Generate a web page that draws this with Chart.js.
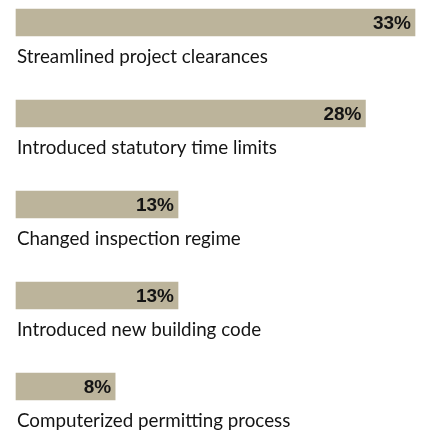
<!DOCTYPE html>
<html>
<head>
<meta charset="utf-8">
<script src="https://cdn.jsdelivr.net/npm/chart.js@4/dist/chart.umd.min.js"></script>
<style>
  html, body { margin: 0; padding: 0; background: #ffffff; }
  #wrap { width: 424px; height: 431px; }
</style>
</head>
<body>
<div id="wrap"><canvas id="c" width="424" height="431"></canvas></div>
<script>
const categories = [
  "Streamlined project clearances",
  "Introduced statutory time limits",
  "Changed inspection regime",
  "Introduced new building code",
  "Computerized permitting process"
];
const values = [33, 28.9, 13.4, 13.4, 8.2];
const valueLabels = ["33%", "28%", "13%", "13%", "8%"];

const BAR_COLOR = "#bcb49b";
const TEXT_COLOR = "#141414";

const labelPlugin = {
  id: "barLabels",
  afterDatasetsDraw(chart) {
    const ctx = chart.ctx;
    const meta = chart.getDatasetMeta(0);
    ctx.save();
    meta.data.forEach((bar, i) => {
      // value label inside the bar end
      ctx.font = "bold 19px 'Liberation Sans', Arial, sans-serif";
      ctx.fillStyle = TEXT_COLOR;
      ctx.textAlign = "right";
      ctx.textBaseline = "middle";
      ctx.fillText(valueLabels[i], bar.x - 4, bar.y + 1);
      // category label below the bar
      ctx.font = "18.8px Lato, 'Open Sans', sans-serif";
      ctx.textAlign = "left";
      ctx.textBaseline = "alphabetic";
      ctx.fillText(categories[i], bar.base + 1, bar.y + 40);
    });
    ctx.restore();
  }
};

new Chart(document.getElementById("c"), {
  type: "bar",
  data: {
    labels: categories,
    datasets: [{
      data: values,
      backgroundColor: BAR_COLOR,
      borderWidth: 0,
      barThickness: 27,
      clip: false
    }]
  },
  options: {
    indexAxis: "y",
    responsive: false,
    animation: false,
    layout: { padding: { left: 16, right: 9, top: 22.5, bottom: 44.5 } },
    plugins: {
      legend: { display: false },
      tooltip: { enabled: false }
    },
    scales: {
      x: { display: false, min: 0, max: 33 },
      y: { display: false, offset: false }
    }
  },
  plugins: [labelPlugin]
});
</script>
</body>
</html>
